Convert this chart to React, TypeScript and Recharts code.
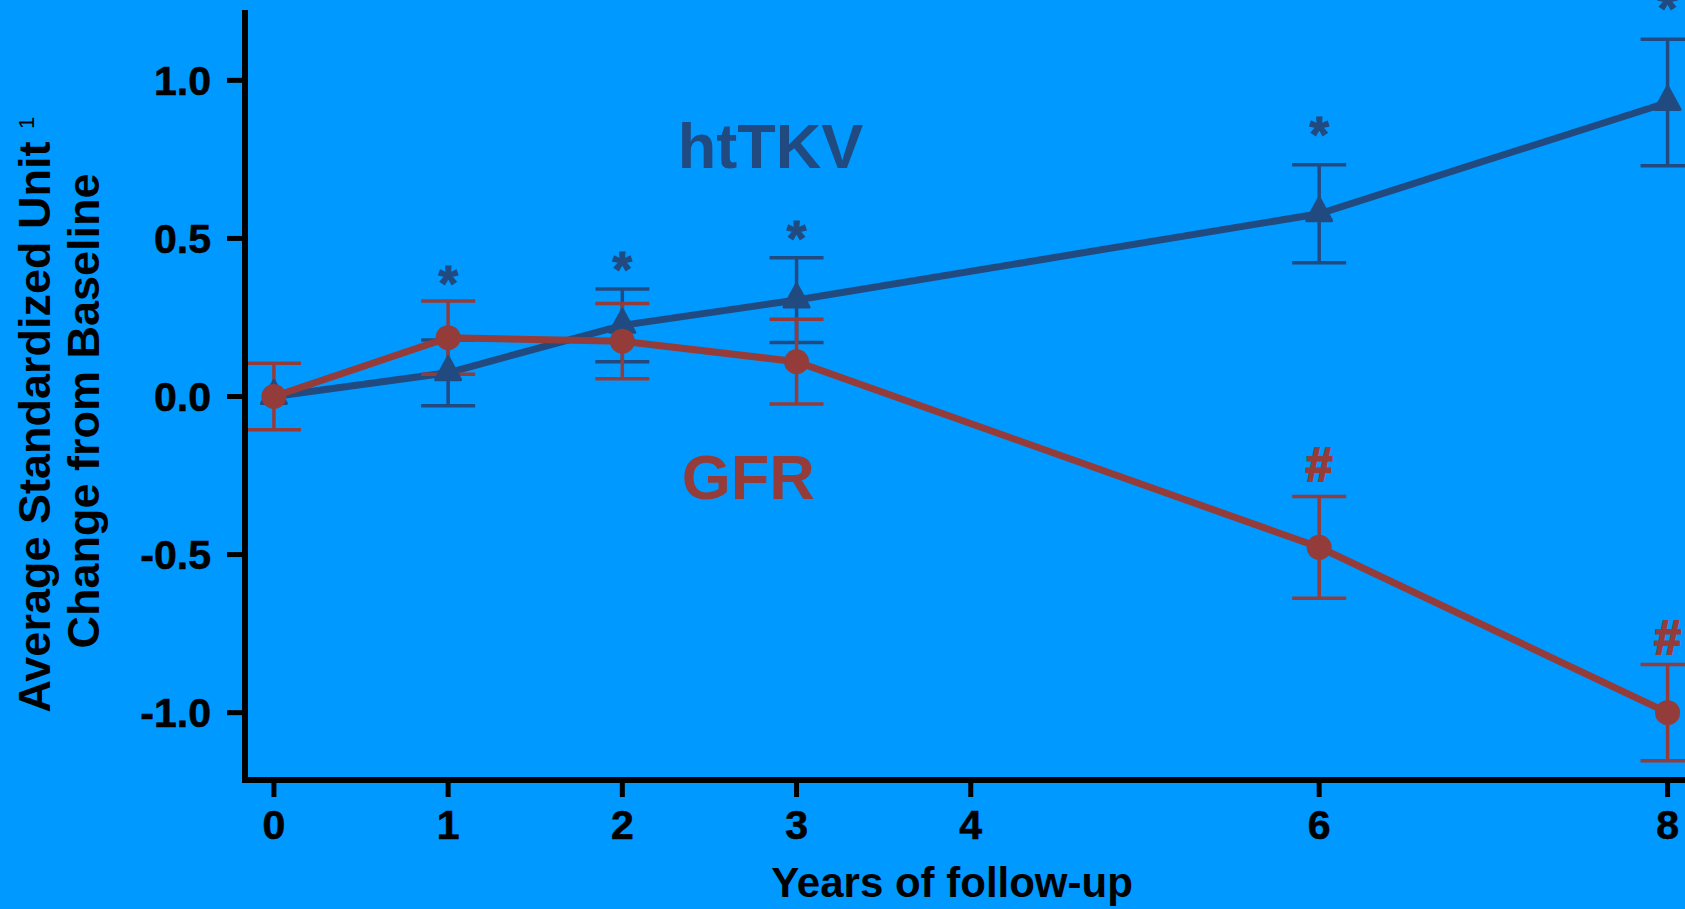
import { LineChart, Line, XAxis, YAxis, ErrorBar, ReferenceDot } from 'recharts';

const BG = '#0099FF';
const BLUE = '#214B80';
const RED = '#943C3A';
const FONT = '"Liberation Sans", Arial, sans-serif';

// follow-up years with measurements
const YEARS = [0, 1, 2, 3, 6, 8];

// htTKV: mean change and error bar half-width
const TKV_MEAN = [0, 0.075, 0.225, 0.305, 0.578, 0.93];
const TKV_ERR = [0, 0.104, 0.115, 0.134, 0.155, 0.2];

// GFR: mean change and error bar half-width
const GFR_MEAN = [0, 0.186, 0.175, 0.11, -0.477, -1.0];
const GFR_ERR = [0.105, 0.116, 0.119, 0.134, 0.161, 0.152];

const X_TICKS = [0, 1, 2, 3, 4, 6, 8];
const Y_TICKS = [-1, -0.5, 0, 0.5, 1];

// significance marks (data units)
const STAR_YEARS = [1, 2, 3, 6, 8];
const STAR_Y = [0.392, 0.435, 0.533, 0.862, 1.26];
const HASH_YEARS = [6, 8];
const HASH_Y = [-0.214, -0.76];

const data = YEARS.map((year, i) => ({
  year,
  tkv: TKV_MEAN[i],
  tkvErr: TKV_ERR[i],
  gfr: GFR_MEAN[i],
  gfrErr: GFR_ERR[i],
}));

const tickStyle = { fill: '#000', fontSize: 41, fontWeight: 700, fontFamily: FONT, stroke: '#000', strokeWidth: 0.6 };

function Triangle(props: any) {
  const { cx, cy } = props;
  if (cx == null || cy == null) return <g key={props.key} />;
  return (
    <path
      key={props.key}
      d={`M${cx},${cy - 16} L${cx + 12.5},${cy + 7} L${cx - 12.5},${cy + 7} Z`}
      fill={BLUE}
      stroke={BLUE}
      strokeWidth={3}
      strokeLinejoin="round"
    />
  );
}

function YLabel() {
  return (
    <g fontFamily={FONT} fontWeight={700} fill="#000">
      <text x={50} y={427} fontSize={45} textAnchor="middle" transform="rotate(-90, 50, 427)">
        Average Standardized Unit
      </text>
      <text x={34} y={129} fontSize={22} textAnchor="start" transform="rotate(-90, 34, 129)" fontWeight={400}>
        1
      </text>
      <text x={99} y={411} fontSize={45} textAnchor="middle" transform="rotate(-90, 99, 411)">
        Change from Baseline
      </text>
    </g>
  );
}

function XLabel() {
  return (
    <text x={952} y={897} textAnchor="middle" fill="#000" fontSize={42} fontWeight={700} fontFamily={FONT}>
      Years of follow-up
    </text>
  );
}

export default function App() {
  return (
    <div style={{ position: 'absolute', left: 0, top: 0, width: 1685, height: 909, background: BG, overflow: 'hidden' }}>
      <LineChart width={1685} height={909} data={data} margin={{ top: 13, right: 0, bottom: 0, left: 145 }}>
        <XAxis
          dataKey="year"
          type="number"
          domain={[-0.166, 8.1]}
          allowDataOverflow
          ticks={X_TICKS}
          interval={0}
          height={129}
          axisLine={{ stroke: '#000', strokeWidth: 6, strokeLinecap: 'square' }}
          tickLine={{ stroke: '#000', strokeWidth: 5 }}
          tickSize={17}
          tickMargin={13}
          tick={tickStyle}
          label={{ content: () => <XLabel /> }}
        />
        <YAxis
          type="number"
          domain={[-1.213, 1.213]}
          allowDataOverflow
          ticks={Y_TICKS}
          interval={0}
          width={100}
          axisLine={{ stroke: '#000', strokeWidth: 6, strokeLinecap: 'square' }}
          tickLine={{ stroke: '#000', strokeWidth: 5 }}
          tickSize={18}
          tickMargin={16}
          tick={tickStyle}
          tickFormatter={(v: number) => v.toFixed(1)}
          label={{ content: () => <YLabel /> }}
        />
        <Line
          dataKey="tkv"
          stroke={BLUE}
          strokeWidth={7}
          dot={(p: any) => <Triangle {...p} />}
          activeDot={false}
          isAnimationActive={false}
          type="linear"
        >
          <ErrorBar dataKey="tkvErr" width={27} strokeWidth={3.5} stroke={BLUE} direction="y" isAnimationActive={false} />
        </Line>
        <Line
          dataKey="gfr"
          stroke={RED}
          strokeWidth={7}
          dot={{ r: 12.5, fill: RED, stroke: 'none' }}
          activeDot={false}
          isAnimationActive={false}
          type="linear"
        >
          <ErrorBar dataKey="gfrErr" width={27} strokeWidth={3.5} stroke={RED} direction="y" isAnimationActive={false} />
        </Line>
        {STAR_YEARS.map((yr, i) => (
          <ReferenceDot
            key={`star-${yr}`}
            x={yr}
            y={STAR_Y[i]}
            ifOverflow="visible"
            shape={(p: any) => (
              <text
                x={p.cx}
                y={p.cy + 28}
                textAnchor="middle"
                fill={BLUE}
                stroke={BLUE}
                strokeWidth={1.2}
                fontSize={50}
                fontWeight={700}
                fontFamily={FONT}
              >
                *
              </text>
            )}
          />
        ))}
        {HASH_YEARS.map((yr, i) => (
          <ReferenceDot
            key={`hash-${yr}`}
            x={yr}
            y={HASH_Y[i]}
            ifOverflow="visible"
            shape={(p: any) => (
              <text
                x={p.cx}
                y={p.cy + 17}
                textAnchor="middle"
                fill={RED}
                stroke={RED}
                strokeWidth={2}
                fontSize={48}
                fontWeight={700}
                fontFamily={FONT}
              >
                #
              </text>
            )}
          />
        ))}
        <ReferenceDot
          x={2.318}
          y={0.722}
          ifOverflow="visible"
          shape={(p: any) => (
            <text x={p.cx} y={p.cy} textAnchor="start" fill={BLUE} fontSize={63} fontWeight={700} fontFamily={FONT}>
              htTKV
            </text>
          )}
        />
        <ReferenceDot
          x={2.341}
          y={-0.324}
          ifOverflow="visible"
          shape={(p: any) => (
            <text x={p.cx} y={p.cy} textAnchor="start" fill={RED} fontSize={63} fontWeight={700} fontFamily={FONT}>
              GFR
            </text>
          )}
        />
      </LineChart>
    </div>
  );
}
